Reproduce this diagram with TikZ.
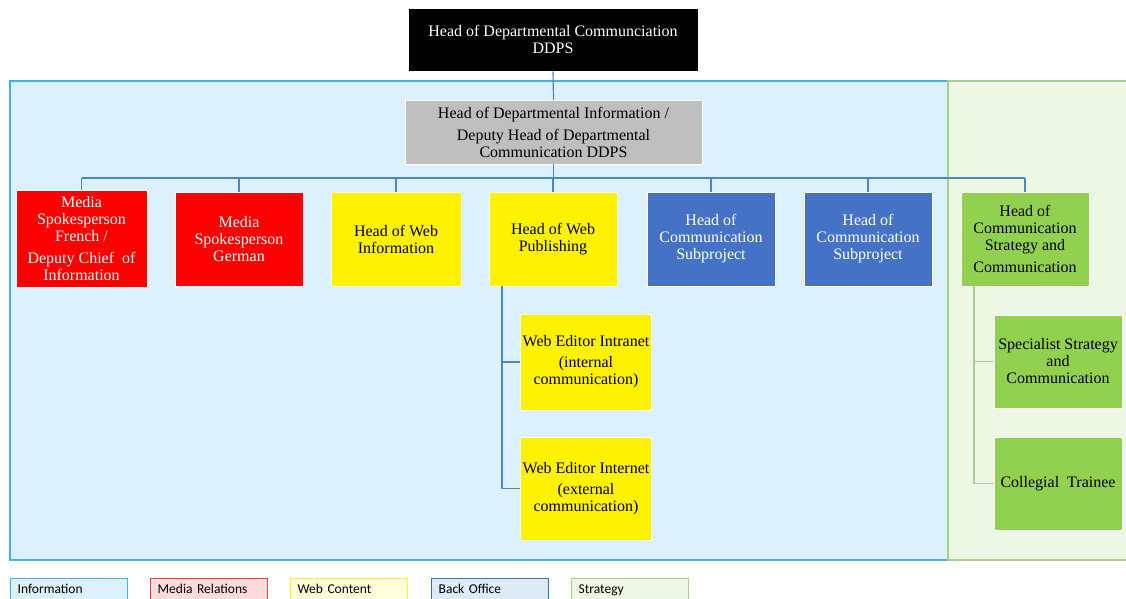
\documentclass[tikz,border=0pt]{standalone}
\usepackage{fontspec}
\setmainfont{Liberation Serif}
\newfontfamily\legfont{Carlito}
\definecolor{infofill}{HTML}{DCF1FB}
\definecolor{infoline}{HTML}{3DB5E8}
\definecolor{stratfill}{HTML}{EEF7E4}
\definecolor{stratline}{HTML}{A8D08D}
\definecolor{greybox}{HTML}{BFBFBF}
\definecolor{bluebox}{HTML}{4472C4}
\definecolor{greenbox}{HTML}{92D050}
\definecolor{connblue}{HTML}{4A86C8}
\definecolor{mediafill}{HTML}{FFDCDC}
\definecolor{medialine}{HTML}{E8403F}
\definecolor{webfill}{HTML}{FFFFDC}
\definecolor{webline}{HTML}{F5F53C}
\definecolor{backfill}{HTML}{DDEBF7}
\definecolor{backline}{HTML}{2E75B6}
\begin{document}
\begin{tikzpicture}[x=1pt,y=-1pt,
  orgbox/.style={draw=white, line width=0.6pt, align=center, inner sep=2pt,
    font=\fontsize{16}{17}\selectfont},
  redbox/.style={orgbox, fill=red, text=white},
  yelbox/.style={orgbox, fill=yellow, text=black},
  bluebx/.style={orgbox, fill=bluebox, text=white},
  grnbox/.style={orgbox, fill=greenbox, text=black},
  conn/.style={draw=connblue, line width=1.2pt},
  gconn/.style={draw=stratline, line width=1.2pt},
  legbox/.style={anchor=north west, line width=1.4pt, minimum width=117, minimum height=22,
    text width=103, text height=9.5pt, text depth=3pt, align=left, inner xsep=7pt, inner ysep=5pt,
    font=\legfont\fontsize{13.5}{15}\selectfont}
]
\useasboundingbox (0,0) rectangle (1126,599);
\clip (0,0) rectangle (1126,599);
\fill[white] (0,0) rectangle (1126,599);

% regions
\filldraw[fill=infofill, draw=infoline, line width=1.4pt] (10,81) rectangle (948,560);
\filldraw[fill=stratfill, draw=stratline, line width=1.4pt] (948,81) rectangle (1140,560);

% top
\node[orgbox, fill=black, text=white, minimum width=290, minimum height=63] (top) at (553,39.5)
  {Head of Departmental Communciation\\DDPS};
\node[orgbox, fill=greybox, text=black, minimum width=297, minimum height=64] (grey) at (553.5,132)
  {Head of Departmental Information /\\[5pt]Deputy Head of Departmental\\Communication DDPS};

% row
\node[redbox, minimum width=131, minimum height=97] (ms1) at (81.5,238.5)
  {Media\\Spokesperson\\French /\\[5pt]Deputy Chief~ of\\Information};
\node[redbox, minimum width=128, minimum height=94] (ms2) at (239,239)
  {Media\\Spokesperson\\German};
\node[yelbox, minimum width=130, minimum height=94] (hwi) at (396,239)
  {Head of Web\\Information};
\node[yelbox, minimum width=128, minimum height=94] (hwp) at (553,239)
  {Head of Web\\Publishing};
\node[bluebx, minimum width=128, minimum height=94] (sp1) at (711,239)
  {Head of\\Communication\\Subproject};
\node[bluebx, minimum width=128, minimum height=94] (sp2) at (868,239)
  {Head of\\Communication\\Subproject};
\node[grnbox, minimum width=128, minimum height=94] (hcs) at (1025,239)
  {Head of\\Communication\\Strategy and\\[5pt]Communication};

% web children
\node[yelbox, minimum width=130, minimum height=96] (we1) at (586,362)
  {Web Editor Intranet\\[4pt](internal\\communication)};
\node[yelbox, minimum width=130, minimum height=103] (we2) at (586,488.5)
  {Web Editor Internet\\[4pt](external\\communication)};

% strategy children
\node[grnbox, minimum width=128, minimum height=93] (ssc) at (1058,361.5)
  {Specialist Strategy\\and\\Communication};
\node[grnbox, minimum width=128, minimum height=93] (ct) at (1058,483.5)
  {Collegial~ Trainee};

% connectors
\coordinate (bus) at (553,178);
\coordinate (wv) at (502,0);
\coordinate (gv) at (974,0);
\draw[conn] (top.south) -- (grey.north);
\draw[conn] (grey.south) -- (grey.south |- bus);
\draw[conn] (ms1.north |- bus) -- (hcs.north |- bus);
\foreach \n in {ms1,ms2,hwi,hwp,sp1,sp2,hcs}
  \draw[conn] (\n.north) -- (\n.north |- bus);
\draw[conn] (hwp.south -| wv) -- (wv |- we2.west) -- (we2.west);
\draw[conn] (wv |- we1.west) -- (we1.west);
\draw[gconn] (hcs.south -| gv) -- (gv |- ct.west) -- (ct.west);
\draw[gconn] (gv |- ssc.west) -- (ssc.west);

% legend
\node[legbox, fill=infofill, draw=infoline] (l1) at (10,578) {Information};
\node[legbox, fill=mediafill, draw=medialine] (l2) at (150,578) {Media Relations};
\node[legbox, fill=webfill, draw=webline] (l3) at (290,578) {Web Content};
\node[legbox, fill=backfill, draw=backline] (l4) at (431,578) {Back Office};
\node[legbox, fill=stratfill, draw=stratline] (l5) at (571,578) {Strategy};
\end{tikzpicture}
\end{document}
